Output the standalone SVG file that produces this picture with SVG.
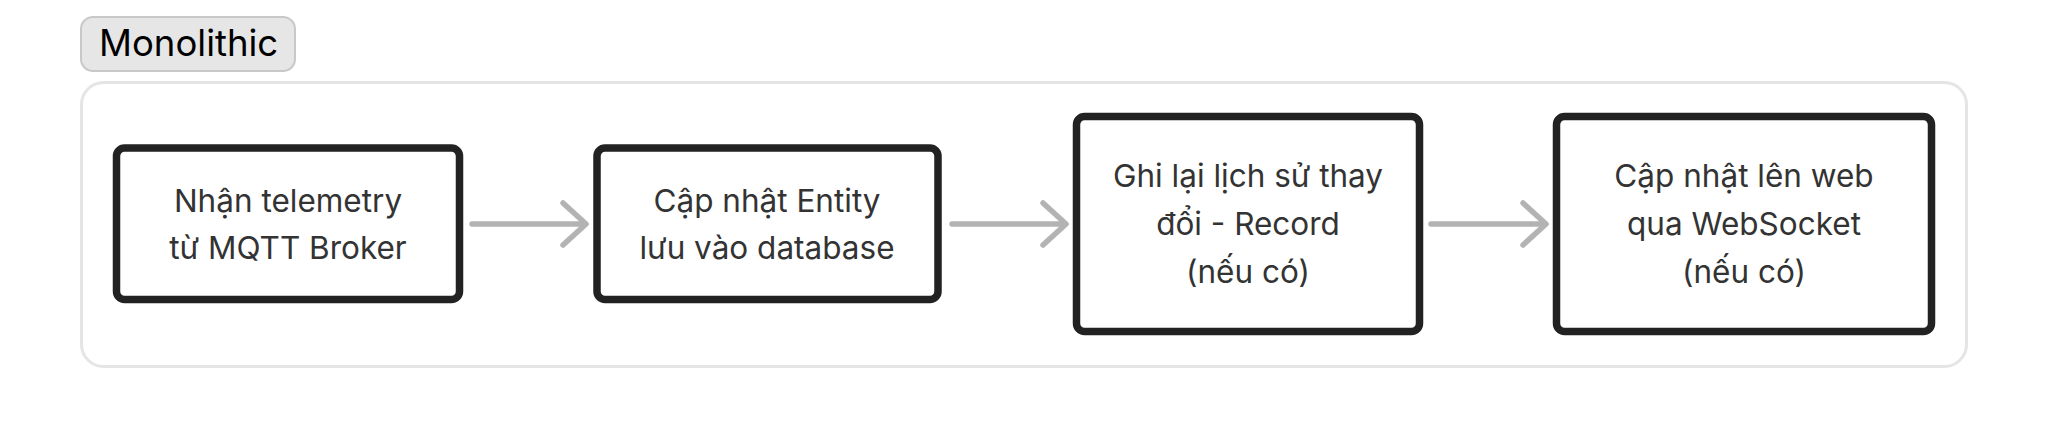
<svg xmlns="http://www.w3.org/2000/svg" width="2048" height="448" viewBox="0 0 2048 448">
<style>
.bg{fill:#ffffff}
.container{fill:#ffffff;stroke:#e5e5e5;stroke-width:3}
.pill{fill:#e6e6e6;stroke:#c8c8c8;stroke-width:2}
.node{fill:#ffffff;stroke:#222222;stroke-width:7.5}
.t{font-family:Inter,"Noto Sans","Liberation Sans",sans-serif;font-size:31.5px;fill:#333333;text-anchor:middle}
.lbl{font-family:Inter,"Noto Sans","Liberation Sans",sans-serif;font-size:36.5px;fill:#000000}
.edge{fill:none;stroke:#b3b3b3;stroke-width:5.5;stroke-linecap:round;stroke-linejoin:round}
</style>
<rect class="bg" x="0" y="0" width="2048" height="448"/>
<g id="group-monolithic">
<rect class="container" x="81.5" y="82.5" width="1885" height="284" rx="22"/>
<rect class="pill" x="81" y="17" width="214" height="54" rx="12"/>
<text class="lbl" x="99" y="56">Monolithic</text>
</g>
<g id="connectors">
<path class="edge" d="M472 224H585M563 203L586 224L563 245"/>
<path class="edge" d="M952 224H1065M1043 203L1066 224L1043 245"/>
<path class="edge" d="M1431 224H1545M1523 203L1546 224L1523 245"/>
</g>
<g id="n1">
<rect class="node" x="116.5" y="148" width="343" height="151.5" rx="8"/>
<text class="t" x="288" y="212">Nhận telemetry</text>
<text class="t" x="288" y="259">từ MQTT Broker</text>
</g>
<g id="n2">
<rect class="node" x="597" y="148" width="341" height="151.5" rx="8"/>
<text class="t" x="767" y="212">Cập nhật Entity</text>
<text class="t" x="767" y="259">lưu vào database</text>
</g>
<g id="n3">
<rect class="node" x="1076.5" y="116.5" width="343" height="215" rx="8"/>
<text class="t" x="1248" y="187">Ghi lại lịch sử thay</text>
<text class="t" x="1248" y="235">đổi - Record</text>
<text class="t" x="1248" y="283">(nếu có)</text>
</g>
<g id="n4">
<rect class="node" x="1556.5" y="116.5" width="375" height="215" rx="8"/>
<text class="t" x="1744" y="187">Cập nhật lên web</text>
<text class="t" x="1744" y="235">qua WebSocket</text>
<text class="t" x="1744" y="283">(nếu có)</text>
</g>
</svg>
